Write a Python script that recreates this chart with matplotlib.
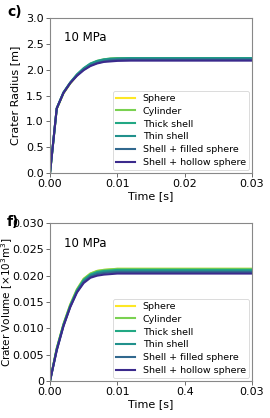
import matplotlib
matplotlib.use("Agg")
import matplotlib.pyplot as plt
import numpy as np

labels = ["Sphere", "Cylinder", "Thick shell", "Thin shell", "Shell + filled sphere", "Shell + hollow sphere"]
colors = ["#fde725", "#7ad151", "#22a884", "#21918c", "#31688e", "#3b2a8c"]

t = [0.0, 0.001, 0.002, 0.003, 0.004, 0.005, 0.006, 0.007, 0.008, 0.009, 0.010, 0.012, 0.015, 0.020, 0.025, 0.030]

radius = {
    "Sphere":                [0.0, 1.24, 1.54, 1.73, 1.89, 2.01, 2.10, 2.16, 2.19, 2.21, 2.22, 2.225, 2.225, 2.225, 2.225, 2.225],
    "Cylinder":              [0.0, 1.25, 1.55, 1.74, 1.90, 2.02, 2.11, 2.17, 2.20, 2.215, 2.22, 2.225, 2.225, 2.225, 2.225, 2.225],
    "Thick shell":           [0.0, 1.25, 1.56, 1.75, 1.91, 2.03, 2.12, 2.17, 2.20, 2.215, 2.22, 2.225, 2.225, 2.225, 2.225, 2.225],
    "Thin shell":            [0.0, 1.25, 1.56, 1.75, 1.90, 2.02, 2.11, 2.16, 2.19, 2.205, 2.21, 2.215, 2.215, 2.215, 2.215, 2.215],
    "Shell + filled sphere": [0.0, 1.25, 1.55, 1.74, 1.89, 2.00, 2.08, 2.13, 2.16, 2.18, 2.19, 2.195, 2.195, 2.195, 2.195, 2.195],
    "Shell + hollow sphere": [0.0, 1.25, 1.55, 1.74, 1.88, 1.99, 2.07, 2.12, 2.15, 2.16, 2.17, 2.175, 2.175, 2.175, 2.175, 2.175],
}

volume = {
    "Sphere":                [0.0, 0.0062, 0.0108, 0.0145, 0.0174, 0.0194, 0.0204, 0.0209, 0.0211, 0.0212, 0.0213, 0.0213, 0.0213, 0.0213, 0.0213, 0.0213],
    "Cylinder":              [0.0, 0.0062, 0.0108, 0.0145, 0.0174, 0.0194, 0.0204, 0.0209, 0.0211, 0.0212, 0.0213, 0.0213, 0.0213, 0.0213, 0.0213, 0.0213],
    "Thick shell":           [0.0, 0.0061, 0.0107, 0.0143, 0.0172, 0.0192, 0.0202, 0.0207, 0.0209, 0.0210, 0.0211, 0.0211, 0.0211, 0.0211, 0.0211, 0.0211],
    "Thin shell":            [0.0, 0.0060, 0.0106, 0.0142, 0.0171, 0.0190, 0.0200, 0.0205, 0.0207, 0.0208, 0.0209, 0.0209, 0.0209, 0.0209, 0.0209, 0.0209],
    "Shell + filled sphere": [0.0, 0.0059, 0.0105, 0.0141, 0.0169, 0.0188, 0.0198, 0.0203, 0.0205, 0.0206, 0.0207, 0.0207, 0.0207, 0.0207, 0.0207, 0.0207],
    "Shell + hollow sphere": [0.0, 0.0058, 0.0104, 0.0140, 0.0168, 0.0186, 0.0196, 0.0200, 0.0202, 0.0203, 0.0204, 0.0204, 0.0204, 0.0204, 0.0204, 0.0204],
}

xticks = [0.0, 0.01, 0.02, 0.03]
xticklabels_top = ["0.00", "0.01", "0.02", "0.03"]
xticklabels_bot = ["0.00", "0.01", "0.4", "0.03"]
yticks_top = [0.0, 0.5, 1.0, 1.5, 2.0, 2.5, 3.0]
yticks_bot = [0.0, 0.005, 0.010, 0.015, 0.020, 0.025, 0.030]
yticklabels_bot = ["0", "0.005", "0.010", "0.015", "0.020", "0.025", "0.030"]

plt.rcParams['font.family'] = ['DejaVu Sans']
fig = plt.figure(figsize=(2.7, 4.18), dpi=100)
ax1 = fig.add_axes([50/270, 1-173/418, 202/270, 155/418])
ax2 = fig.add_axes([50/270, 1-381/418, 202/270, 158/418])

fs = 8
for ax, data, yt, ylab, xtl, ylx, ylfs in [
    (ax1, radius, yticks_top, "Crater Radius [m]", xticklabels_top, -0.15, 8),
    (ax2, volume, yticks_bot, r"Crater Volume [$\times$10$^3$m$^3$]", xticklabels_bot, -0.175, 7.5),
]:
    for lab, c in zip(labels, colors):
        ax.plot(t, data[lab], color=c, lw=1.5, label=lab)
    ax.set_xlim(0, 0.03)
    ax.set_ylim(yt[0], yt[-1])
    ax.set_xticks(xticks)
    ax.set_xticklabels(xtl, fontsize=fs)
    ax.set_yticks(yt)
    ax.tick_params(labelsize=fs, length=3, width=0.6, pad=1.5, color="#555555")
    ax.set_xlabel("Time [s]", fontsize=fs, labelpad=1)
    ax.set_ylabel(ylab, fontsize=ylfs)
    ax.yaxis.set_label_coords(ylx, 0.5)
    for s in ax.spines.values():
        s.set_color("#888888")
        s.set_linewidth(0.8)
    ax.text(0.07, 0.85, "10 MPa", transform=ax.transAxes, fontsize=8.5)
    leg = ax.legend(loc="lower right", fontsize=6.8, frameon=True, handlelength=2.0,
                    labelspacing=0.4, borderpad=0.35, handletextpad=0.8,
                    bbox_to_anchor=(1.0, 0.0), borderaxespad=0.3)
    leg.get_frame().set_linewidth(0.6)
    leg.get_frame().set_edgecolor("#cccccc")

ax2.set_yticklabels(yticklabels_bot)

fig.text(7/270, 1-16/418, "c)", fontsize=10, fontweight="bold")
fig.text(7/270, 1-226/418, "f)", fontsize=10, fontweight="bold")

fig.savefig("out.png", dpi=100)
